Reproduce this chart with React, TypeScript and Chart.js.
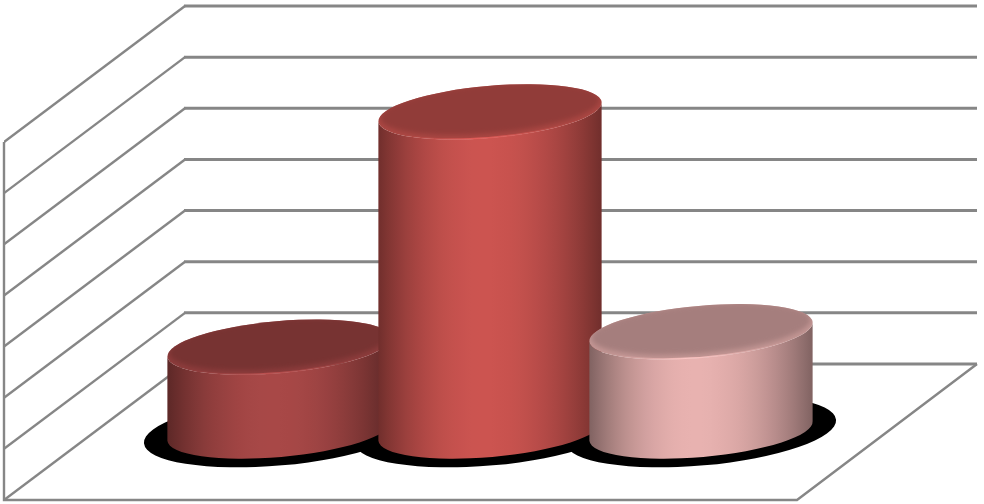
import { useEffect, useRef } from "react";
import Chart from "chart.js/auto";

const categories = ["1", "2", "3"];
const values = [1.64, 6.24, 1.94];
const barColors = ["#a84847", "#cc5450", "#e8b2b0"];

const GRID = "#868686";
const WALL_LEFT = 11.5; // back wall starts this far right of the bar area
const WALL_RIGHT = 170.5;
const DEPTH_X = 181;
const DEPTH_Y = 136;
const FLOOR_X = 4;
const BAR_DEPTH_Y = 67; // cylinders stand half way across the floor
const TILT = (-5 * Math.PI) / 180;
const TOP_RY = 26;
const SHADOW_RY = 34;

function shade(hex: string, f: number, alpha = 1) {
  const n = parseInt(hex.slice(1), 16);
  const c = [n >> 16, (n >> 8) & 255, n & 255].map((v) => Math.min(255, Math.round(v * f)));
  return `rgba(${c[0]},${c[1]},${c[2]},${alpha})`;
}

function drawWalls(chart: Chart) {
  const { ctx, chartArea } = chart;
  const yScale = chart.scales.y;
  const backL = chartArea.left + WALL_LEFT;
  const backR = chartArea.right + WALL_RIGHT;
  const floorBack = yScale.getPixelForValue(0);
  const topBack = yScale.getPixelForValue(7);

  ctx.save();
  ctx.strokeStyle = GRID;

  // side wall lines run forward and stop at the front edge
  ctx.save();
  ctx.beginPath();
  ctx.rect(FLOOR_X, 0, backL, chart.height);
  ctx.clip();
  ctx.lineWidth = 2.4;
  yScale.ticks.forEach((t) => {
    const y = yScale.getPixelForValue(t.value);
    ctx.beginPath();
    ctx.moveTo(backL, y);
    ctx.lineTo(backL - DEPTH_X, y + DEPTH_Y);
    ctx.stroke();
  });
  ctx.restore();

  ctx.lineWidth = 3;
  yScale.ticks.forEach((t) => {
    const y = yScale.getPixelForValue(t.value);
    ctx.beginPath();
    ctx.moveTo(backL - 1, y);
    ctx.lineTo(backR, y);
    ctx.stroke();
  });

  // left edge and floor outline
  ctx.lineWidth = 2.4;
  ctx.beginPath();
  ctx.moveTo(FLOOR_X, topBack + DEPTH_Y);
  ctx.lineTo(FLOOR_X, floorBack + DEPTH_Y);
  ctx.lineTo(backR - DEPTH_X + 1, floorBack + DEPTH_Y);
  ctx.lineTo(backR, floorBack);
  ctx.stroke();
  ctx.restore();
}

function drawCylinder(ctx: CanvasRenderingContext2D, bar: any, color: string) {
  const cx = bar.x;
  const rx = bar.width / 2;
  const topY = bar.y + BAR_DEPTH_Y;
  const baseY = bar.base + BAR_DEPTH_Y;
  const tipX = rx * Math.cos(TILT);
  const tipY = rx * Math.sin(TILT);

  // round shading across the side, brightest a little left of centre
  const side = ctx.createLinearGradient(cx - rx, 0, cx + rx, 0);
  for (let i = 0; i <= 24; i++) {
    const t = i / 24;
    const u = t < 0.47 ? (0.47 - t) / 0.47 : (t - 0.47) / 0.53;
    side.addColorStop(t, shade(color, 1 - 0.45 * u * u));
  }

  ctx.beginPath();
  ctx.moveTo(cx - tipX, topY - tipY);
  ctx.lineTo(cx - tipX, baseY - tipY);
  ctx.ellipse(cx, baseY, rx, TOP_RY, TILT, Math.PI, 0, true);
  ctx.lineTo(cx + tipX, topY + tipY);
  ctx.ellipse(cx, topY, rx, TOP_RY, TILT, 0, Math.PI, false);
  ctx.closePath();
  ctx.fillStyle = side;
  ctx.fill();

  // top: soft bevel ring, then the flat face
  ctx.save();
  ctx.beginPath();
  ctx.ellipse(cx, topY, rx, TOP_RY, TILT, 0, Math.PI * 2);
  ctx.fillStyle = shade(color, 0.84);
  ctx.fill();
  ctx.clip();
  ctx.filter = "blur(2.5px)";
  ctx.beginPath();
  ctx.ellipse(cx, topY - 3, rx - 2, TOP_RY - 1.5, TILT, 0, Math.PI * 2);
  ctx.fillStyle = shade(color, 0.71);
  ctx.fill();
  ctx.restore();

  const rim = ctx.createLinearGradient(cx - rx, 0, cx + rx, 0);
  rim.addColorStop(0.1, shade(color, 1.05, 0));
  rim.addColorStop(0.45, shade(color, 1.12, 1));
  rim.addColorStop(0.9, shade(color, 1.05, 0));
  ctx.beginPath();
  ctx.ellipse(cx, topY, rx - 1, TOP_RY - 0.5, TILT, 0.2, Math.PI - 0.2, false);
  ctx.strokeStyle = rim;
  ctx.lineWidth = 1.5;
  ctx.stroke();
}

const cylinderPlugin = {
  id: "cylinders",
  beforeDatasetsDraw(chart: Chart) {
    const { ctx } = chart;
    const bars = chart.getDatasetMeta(0).data as any[];
    drawWalls(chart);

    ctx.save();
    ctx.fillStyle = "#000000";
    bars.forEach((bar) => {
      ctx.beginPath();
      ctx.ellipse(bar.x, bar.base + BAR_DEPTH_Y + 0.5, (bar.width / 2) * 1.21, SHADOW_RY, TILT, 0, Math.PI * 2);
      ctx.fill();
    });
    ctx.restore();

    bars.forEach((bar, i) => drawCylinder(ctx, bar, barColors[i]));
    return false; // the cylinders replace the flat bars
  },
};

export default function App() {
  const canvasRef = useRef<HTMLCanvasElement>(null);

  useEffect(() => {
    document.body.style.margin = "0";
    if (!canvasRef.current) return;

    const chart = new Chart(canvasRef.current, {
      type: "bar",
      data: {
        labels: categories,
        datasets: [
          {
            data: values,
            backgroundColor: barColors,
            barPercentage: 1.062,
            categoryPercentage: 1,
          },
        ],
      },
      options: {
        responsive: false,
        animation: false,
        layout: { padding: { left: 173.5, right: 177.5, top: 6, bottom: 140 } },
        plugins: { legend: { display: false }, tooltip: { enabled: false } },
        scales: {
          x: { display: false },
          y: { display: false, min: 0, max: 7, ticks: { stepSize: 1 } },
        },
      },
      plugins: [cylinderPlugin],
    });

    return () => chart.destroy();
  }, []);

  return (
    <div style={{ width: 984, height: 504 }}>
      <canvas ref={canvasRef} width={984} height={504} style={{ display: "block" }}></canvas>
    </div>
  );
}
